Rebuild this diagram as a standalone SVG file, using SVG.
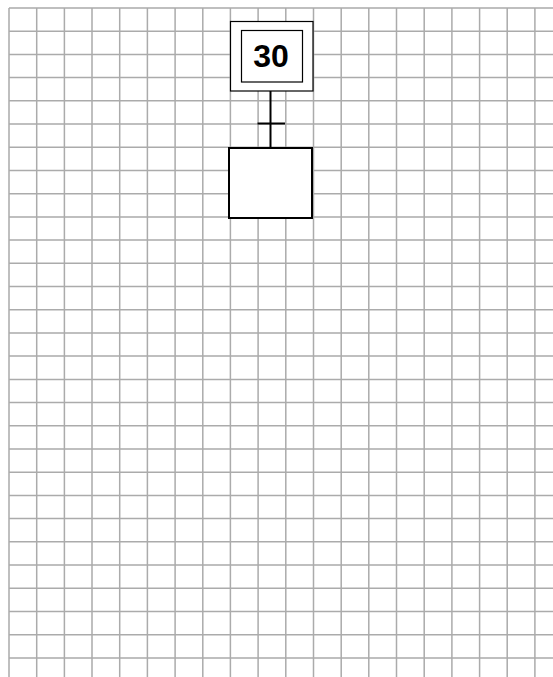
<svg xmlns="http://www.w3.org/2000/svg" width="553" height="677" viewBox="0 0 553 677">
<defs>
<style>
.g{stroke:#ababab;stroke-width:1.5;fill:none}
.box{fill:#fff;stroke:#000}
.lbl{font-family:"Liberation Sans",Arial,sans-serif;font-weight:bold;font-size:32px;text-anchor:middle;fill:#000}
</style>
</defs>
<rect width="553" height="677" fill="#fff"/>
<path class="g" d="M9 8V677M36.7 8V677M64.4 8V677M92 8V677M119.7 8V677M147.4 8V677M175.1 8V677M202.8 8V677M230.4 8V677M258.1 8V677M285.8 8V677M313.5 8V677M341.2 8V677M368.8 8V677M396.5 8V677M424.2 8V677M451.9 8V677M479.6 8V677M507.2 8V677M534.9 8V677
M9 8H553M9 31.2H553M9 54.4H553M9 77.6H553M9 100.8H553M9 124H553M9 147.3H553M9 170.5H553M9 193.7H553M9 216.9H553M9 240.1H553M9 263.3H553M9 286.5H553M9 309.7H553M9 332.9H553M9 356.1H553M9 379.4H553M9 402.6H553M9 425.8H553M9 449H553M9 472.2H553M9 495.4H553M9 518.6H553M9 541.8H553M9 565H553M9 588.2H553M9 611.5H553M9 634.7H553M9 657.9H553"/>
<g id="connectors">
<line x1="270.5" y1="91" x2="270.5" y2="148" stroke="#000" stroke-width="2"/>
<line x1="257.5" y1="123.5" x2="285" y2="123.5" stroke="#000" stroke-width="2"/>
</g>
<g id="step30">
<rect x="230.5" y="21.5" width="82.5" height="69.5" class="box" stroke-width="1.2"/>
<rect x="241.5" y="30.5" width="61" height="51.5" class="box" stroke-width="1.2"/>
<text x="271" y="66.5" class="lbl">30</text>
</g>
<g id="step">
<rect x="229" y="148" width="83" height="70" class="box" stroke-width="2"/>
</g>
</svg>
